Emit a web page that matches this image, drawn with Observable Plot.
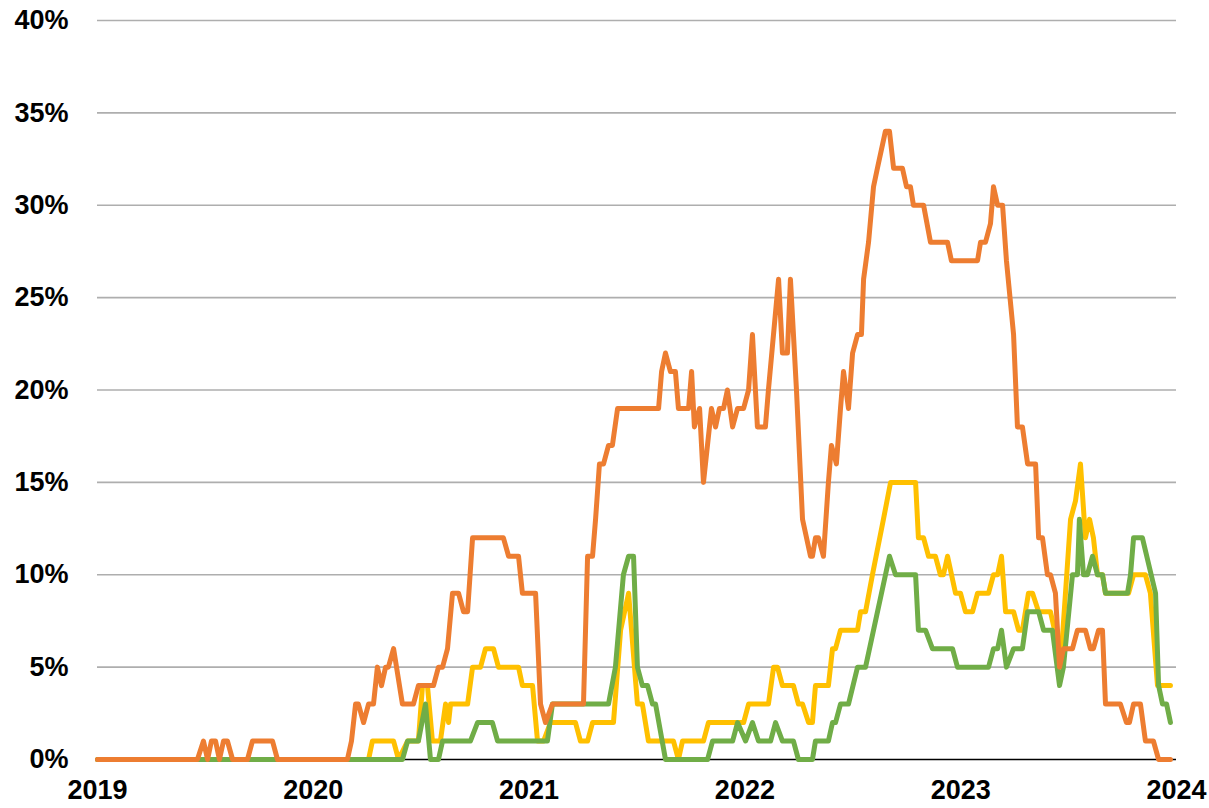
<!DOCTYPE html>
<html>
<head>
<meta charset="utf-8">
<script src="https://cdn.jsdelivr.net/npm/d3@7"></script>
<script src="https://cdn.jsdelivr.net/npm/@observablehq/plot@0.6"></script>
<style>
  html, body { margin: 0; padding: 0; background: #fff; }
  #chart { width: 1209px; height: 808px; }
</style>
</head>
<body>
<div id="chart"></div>
<script>
// Tick labels
const yearTicks = [2019, 2020, 2021, 2022, 2023, 2024];
const pctTicks = [0, 5, 10, 15, 20, 25, 30, 35, 40];

// Orange series (time in decimal years, value in %)
const orangeT = [2019.000,2019.463,2019.491,2019.510,2019.528,2019.547,2019.565,2019.584,2019.602,2019.626,2019.695,2019.718,2019.811,2019.834,
  2020.158,2020.177,2020.196,2020.209,2020.233,2020.256,2020.279,2020.297,2020.316,2020.335,2020.348,2020.372,2020.413,2020.464,2020.487,2020.557,
  2020.580,2020.599,2020.622,2020.645,2020.673,2020.696,2020.715,2020.738,2020.881,2020.905,2020.951,2020.969,2021.030,2021.053,2021.076,2021.108,
  2021.252,2021.271,2021.294,2021.308,2021.326,2021.345,2021.368,2021.386,2021.410,2021.600,2021.614,2021.632,2021.655,2021.678,2021.692,2021.739,
  2021.753,2021.766,2021.790,2021.808,2021.845,2021.864,2021.882,2021.901,2021.919,2021.943,2021.966,2021.994,2022.017,2022.035,2022.058,2022.095,
  2022.109,2022.156,2022.174,2022.197,2022.211,2022.239,2022.267,2022.304,2022.313,2022.327,2022.341,2022.364,2022.387,2022.401,2022.424,2022.443,
  2022.457,2022.480,2022.499,2022.522,2022.540,2022.550,2022.573,2022.596,2022.614,2022.651,2022.670,2022.689,2022.730,2022.749,2022.767,2022.781,
  2022.828,2022.860,2022.939,2022.957,2023.078,2023.092,2023.115,2023.138,2023.152,2023.171,2023.194,2023.212,2023.245,2023.263,2023.286,2023.310,
  2023.347,2023.361,2023.379,2023.402,2023.416,2023.439,2023.458,2023.476,2023.518,2023.541,2023.578,2023.601,2023.615,2023.639,2023.657,2023.671,
  2023.740,2023.768,2023.782,2023.801,2023.833,2023.856,2023.893,2023.917,2023.972];
const orangeV = [0,0,1,0,1,1,0,1,1,0,0,1,1,0,
  0,1,3,3,2,3,3,5,4,5,5,6,3,3,4,4,
  5,5,6,9,9,8,8,12,12,11,11,9,9,3,2,3,
  3,11,11,13,16,16,17,17,19,19,21,22,21,21,19,19,
  21,18,19,15,19,18,19,19,20,18,19,19,20,23,18,18,
  20,26,22,22,26,20,13,11,11,12,12,11,15,17,16,19,
  21,19,22,23,23,26,28,31,32,34,34,32,32,31,31,30,
  30,28,28,27,27,28,28,29,31,30,30,27,23,18,18,16,
  16,12,12,10,10,9,5,6,6,7,7,6,6,7,7,3,
  3,2,2,3,3,1,1,0,0];

// Yellow series
const yellowT = [2019.000,2020.256,2020.274,2020.372,2020.395,2020.437,2020.487,2020.506,2020.529,2020.552,2020.589,2020.613,2020.627,2020.636,
  2020.715,2020.738,2020.775,2020.798,2020.835,2020.858,2020.951,2020.969,2021.016,2021.039,2021.067,2021.099,2021.215,2021.238,2021.271,2021.294,
  2021.391,2021.424,2021.461,2021.502,2021.525,2021.553,2021.669,2021.692,2021.711,2021.808,2021.831,2021.994,2022.017,2022.109,2022.133,2022.151,
  2022.174,2022.225,2022.248,2022.267,2022.295,2022.313,2022.327,2022.387,2022.406,2022.420,2022.443,2022.522,2022.536,2022.559,2022.591,2022.642,
  2022.675,2022.791,2022.804,2022.828,2022.851,2022.883,2022.906,2022.920,2022.939,2022.976,2022.999,2023.022,2023.055,2023.078,2023.129,2023.152,
  2023.171,2023.189,2023.208,2023.245,2023.268,2023.286,2023.314,2023.333,2023.361,2023.416,2023.435,2023.462,2023.509,2023.532,2023.555,2023.578,
  2023.597,2023.615,2023.634,2023.657,2023.671,2023.778,2023.801,2023.856,2023.879,2023.912,2023.972];
const yellowV = [0,0,1,1,0,1,1,4,4,1,1,3,2,3,
  3,5,5,6,6,5,5,4,4,1,1,2,2,1,1,2,
  2,7,9,3,3,1,1,0,1,1,2,2,3,3,5,5,
  4,4,3,3,2,2,4,4,6,6,7,7,8,8,10,13,
  15,15,12,12,11,11,10,10,11,9,9,8,8,9,9,10,
  10,11,8,8,7,7,9,9,8,8,7,5,13,14,16,12,
  13,12,10,10,9,9,10,10,9,4,4];

// Green series
const greenT = [2019.000,2020.413,2020.437,2020.487,2020.520,2020.543,2020.580,2020.599,2020.728,2020.761,2020.830,2020.854,2021.085,2021.108,
  2021.368,2021.400,2021.437,2021.461,2021.484,2021.502,2021.525,2021.549,2021.572,2021.586,2021.632,2021.827,2021.850,2021.943,2021.966,2022.003,
  2022.035,2022.063,2022.119,2022.142,2022.174,2022.225,2022.248,2022.313,2022.327,2022.387,2022.406,2022.420,2022.443,2022.480,2022.522,2022.559,
  2022.670,2022.698,2022.791,2022.804,2022.837,2022.869,2022.962,2022.985,2023.129,2023.152,2023.171,2023.189,2023.212,2023.245,2023.286,2023.310,
  2023.361,2023.384,2023.425,2023.458,2023.476,2023.518,2023.541,2023.550,2023.569,2023.587,2023.611,2023.634,2023.657,2023.671,2023.773,2023.787,
  2023.801,2023.842,2023.903,2023.917,2023.935,2023.954,2023.972];
const greenV = [0,0,1,1,3,0,0,1,1,2,2,1,1,3,
  3,5,10,11,11,5,4,4,3,3,0,0,1,1,2,1,
  2,1,1,2,1,1,0,0,1,1,2,2,3,3,5,5,
  11,10,10,7,7,6,6,5,5,6,6,7,5,6,6,8,
  8,7,7,4,5,10,10,13,10,10,11,10,10,9,9,10,
  12,12,9,4,3,3,2];

const toRows = (name, T, V) => T.map((t, i) => ({series: name, t, v: V[i]}));
const orange = toRows("orange", orangeT, orangeV);
const yellow = toRows("yellow", yellowT, yellowV);
const green = toRows("green", greenT, greenV);

const chart = Plot.plot({
  width: 1209,
  height: 808,
  marginLeft: 97,
  marginRight: 33,
  marginTop: 20,
  marginBottom: 49,
  style: {fontFamily: "'Liberation Sans', Arial, sans-serif", fontSize: "27px", fontWeight: "bold", color: "#000", background: "#fff", overflow: "visible"},
  x: {domain: [2019, 2024], label: null},
  y: {domain: [0, 40], label: null},
  marks: [
    Plot.gridY(pctTicks.filter(d => d > 0), {stroke: "#aeaeae", strokeOpacity: 1, strokeWidth: 1.6}),
    Plot.ruleY([0], {stroke: "#000", strokeWidth: 1.6}),
    Plot.axisY(pctTicks, {tickSize: 0, tickPadding: 29, tickFormat: d => d + "%", fill: "#000", label: null}),
    Plot.axisX(yearTicks, {tickSize: 0, tickPadding: 20, tickFormat: d => String(d), fill: "#000", label: null}),
    Plot.line(yellow, {x: "t", y: "v", stroke: "#FFC000", strokeWidth: 5, strokeLinejoin: "round", strokeLinecap: "round"}),
    Plot.line(green, {x: "t", y: "v", stroke: "#70AD47", strokeWidth: 5, strokeLinejoin: "round", strokeLinecap: "round"}),
    Plot.line(orange, {x: "t", y: "v", stroke: "#ED7D31", strokeWidth: 5, strokeLinejoin: "round", strokeLinecap: "round"})
  ]
});
document.getElementById("chart").appendChild(chart);
</script>
</body>
</html>
